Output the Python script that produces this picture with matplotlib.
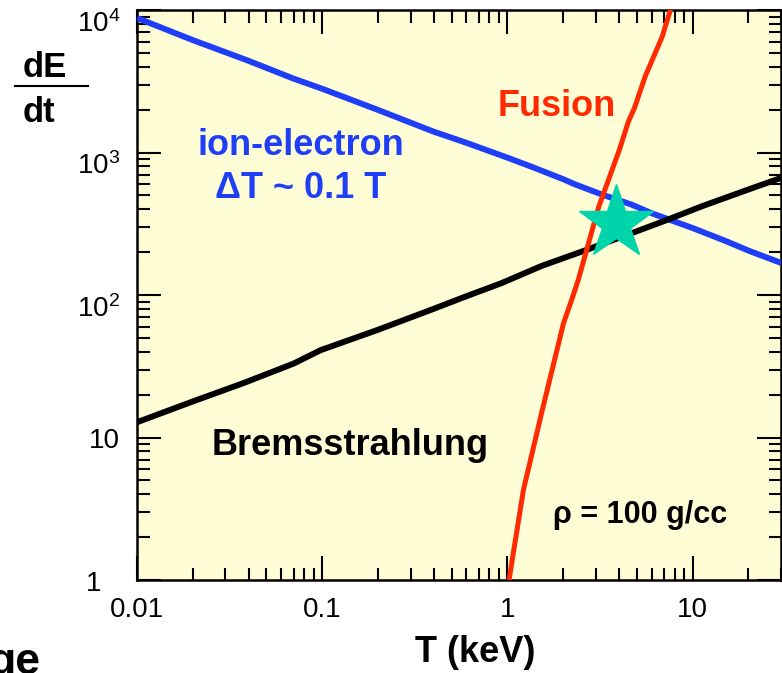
import matplotlib
matplotlib.use("Agg")
import matplotlib.pyplot as plt
from matplotlib.ticker import FixedLocator, FixedFormatter, LogLocator, NullFormatter

plt.rcParams['font.family'] = ['Liberation Sans', 'DejaVu Sans']
plt.rcParams['mathtext.default'] = 'regular'

# ---- data ----
T_ie = [0.01, 0.02, 0.04, 0.07, 0.1, 0.2, 0.4, 0.6, 1.0, 1.4, 2.0, 2.3, 3.2, 4.7, 6.0, 10, 15, 20, 30]
E_ie = [8790, 6150, 4400, 3300, 2800, 1990, 1400, 1170, 920, 780, 650, 600, 510, 430, 375, 295, 240, 205, 168]

T_br = [0.01, 0.02, 0.0376, 0.07, 0.098, 0.2, 0.4, 0.6, 0.927, 1.53, 2.61, 4.88, 7, 11.25, 20, 30]
E_br = [12.8, 17.9, 24.1, 33, 41, 57, 80, 98, 121, 160, 205, 277, 330, 420, 550, 663]

T_fu = [1.02, 1.22, 1.53, 2.01, 2.22, 2.41, 3.11, 4.02, 4.5, 4.85, 5.53, 6.84, 7.5, 7.8]
E_fu = [1, 4.28, 14.9, 63.6, 92, 127, 415, 1042, 1650, 2050, 3388, 6470, 9530, 11500]

star_T = [3.84]
star_E = [320]

xticks = [0.01, 0.1, 1, 10]
xticklabels = ['0.01', '0.1', '1', '10']
yticks = [1, 10, 100, 1000, 10000]
yticklabels = ['', '10', r'$\mathdefault{10^2}$', r'$\mathdefault{10^3}$', r'$\mathdefault{10^4}$']

W, H = 782, 673
fig = plt.figure(figsize=(W / 100, H / 100), dpi=100)
L, R, B, Tp = 137, 781, 580, 10
ax = fig.add_axes([L / W, 1 - B / H, (R - L) / W, (B - Tp) / H])
ax.set_facecolor('#fffdd6')

ax.plot(T_ie, E_ie, color='#1f3ff7', lw=4.3, solid_capstyle='butt', zorder=3)
ax.plot(T_br, E_br, color='black', lw=4.3, solid_capstyle='butt', zorder=3)
ax.plot(T_fu, E_fu, color='#ff2a00', lw=3.6, solid_capstyle='butt', zorder=4)
ax.plot(star_T, star_E, marker='*', ms=56, color='#00d4aa', mec='#00d4aa', ls='none', zorder=5)

ax.set_xscale('log')
ax.set_yscale('log')
ax.set_xlim(0.01, 30)
ax.set_ylim(1, 10000)

ax.xaxis.set_major_locator(FixedLocator(xticks))
ax.xaxis.set_major_formatter(FixedFormatter(xticklabels))
ax.yaxis.set_major_locator(FixedLocator(yticks))
ax.yaxis.set_major_formatter(FixedFormatter(yticklabels))
ax.xaxis.set_minor_locator(LogLocator(base=10, subs=range(2, 10), numticks=20))
ax.yaxis.set_minor_locator(LogLocator(base=10, subs=range(2, 10), numticks=20))
ax.xaxis.set_minor_formatter(NullFormatter())
ax.yaxis.set_minor_formatter(NullFormatter())

ax.tick_params(which='both', direction='in', top=True, right=True, width=1.5, labelsize=20, pad=12)
ax.tick_params(which='major', length=17)
ax.tick_params(which='minor', length=9)
for s in ax.spines.values():
    s.set_linewidth(1.8)

# superscripted labels hang below their tick, as in the reference
for lab in ax.get_yticklabels()[2:]:
    lab.set_verticalalignment('top')

# offset '1' label
ax.annotate('1', xy=(0, 0), xycoords='axes fraction', xytext=(-43, -4),
            textcoords='offset pixels', ha='center', va='center', fontsize=20)

def ftext(x, y, s, **kw):
    fig.text(x / W, 1 - y / H, s, va='baseline', fontweight='bold', **kw)

ftext(498, 116, 'Fusion', color='#ff2a00', fontsize=26)
ftext(301, 155, 'ion-electron', color='#1f3ff7', fontsize=26, ha='center')
ftext(301, 198, r'ΔT ~ 0.1 T', color='#1f3ff7', fontsize=26, ha='center')
ftext(212, 455, 'Bremsstrahlung', color='black', fontsize=26)
ftext(553, 523, 'ρ = 100 g/cc', color='black', fontsize=22)
ftext(415, 662, 'T (keV)', color='black', fontsize=26)
ftext(23, 77, 'dE', color='black', fontsize=25)
ftext(23, 122, 'dt', color='black', fontsize=25)
ftext(-12, 674, 'ge', color='black', fontsize=32)
fig.add_artist(plt.Line2D([15 / W, 88 / W], [1 - 86 / H, 1 - 86 / H], color='black', lw=1.5))

fig.savefig('out.png', dpi=100)
